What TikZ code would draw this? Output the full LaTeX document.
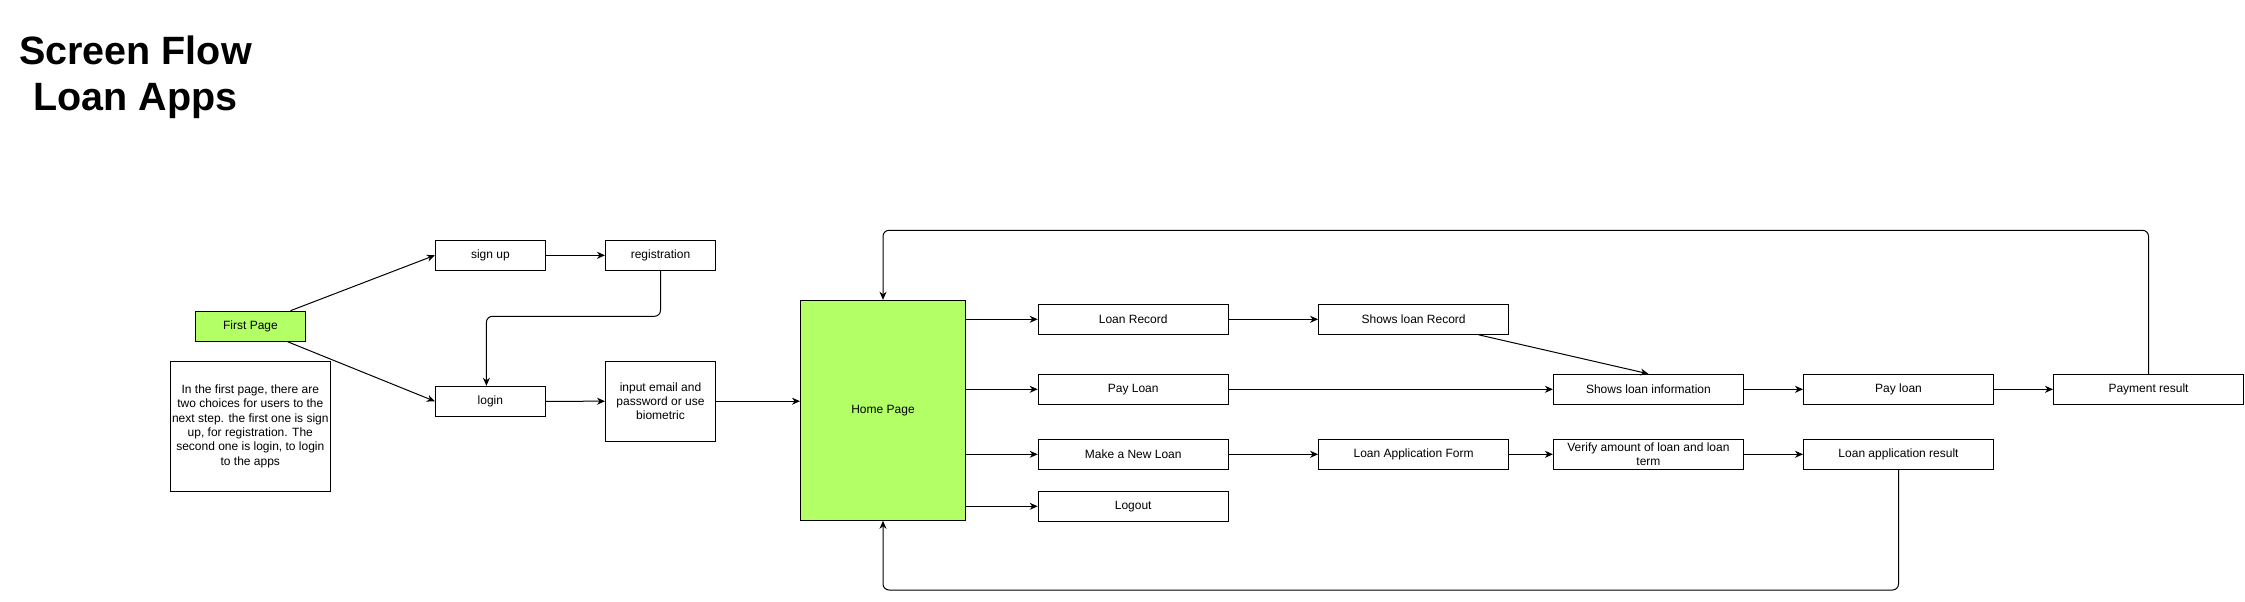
\documentclass[tikz,border=0pt]{standalone}
\usepackage{fontspec}
\setmainfont{Liberation Sans}
\usetikzlibrary{arrows.meta,positioning}
\definecolor{pagegreen}{RGB}{179,255,102}

\begin{document}
\begin{tikzpicture}[x=1pt,y=-1pt,line width=1pt,
    >={Stealth[length=8pt,width=7pt,inset=2.5pt]},
    screen/.style={draw,minimum width=190pt,minimum height=30pt,inner sep=1pt,
        align=center,font=\fontsize{12}{14.4}\selectfont},
    smallscreen/.style={screen,minimum width=110pt},
    greenscreen/.style={screen,fill=pagegreen}]

    \useasboundingbox (0,0) rectangle (2245,602);

    % title
    \node[align=center,font=\fontsize{39.5}{46}\selectfont\bfseries] (title) at (135.5,77.5) {Screen Flow\\Loan Apps};

    % first page, sign up and login
    \node[greenscreen,minimum width=110pt] (first) at (250.5,326.2) {First Page};
    \node[screen,minimum width=160pt,minimum height=130pt] (note) at (250.3,426.2)
        {In the first page, there are\\two choices for users to the\\next step. the first one is sign\\up, for registration. The\\second one is login, to login\\to the apps};
    \node[smallscreen] (signup) at (490.4,255.3) {sign up};
    \node[smallscreen] (regist) at (660.5,255.3) {registration};
    \node[smallscreen] (login) at (490.4,401.3) {login};
    \node[smallscreen,minimum height=80pt] (input) at (660.5,401.2) {input email and\\password or use\\biometric};

    % home page and menu
    \node[greenscreen,minimum width=165pt,minimum height=220pt] (home) at (883,410.3) {Home Page};
    \node[screen] (loanrec) at (1133.2,319.3) {Loan Record};
    \node[screen] (payloan) at (1133.2,389.3) {Pay Loan};
    \node[screen] (newloan) at (1133.2,454.3) {Make a New Loan};
    \node[screen] (logout) at (1133.2,506.3) {Logout};

    % loan screens
    \node[screen] (showrec) at (1413.6,319.3) {Shows loan Record};
    \node[screen] (showinfo) at (1648.4,389.3) {Shows loan information};
    \node[screen] (pay) at (1898.5,389.3) {Pay loan};
    \node[screen] (result) at (2148.5,389.3) {Payment result};
    \node[screen] (form) at (1413.6,454.3) {Loan Application Form};
    \node[screen] (verify) at (1648.4,454.3) {Verify amount of loan and loan\\term};
    \node[screen] (appres) at (1898.5,454.3) {Loan application result};

    % connectors
    \draw[->] ([xshift=40pt]first.north) -- (signup.west);
    \draw[->] ([xshift=37pt]first.south) -- (login.west);
    \draw[->] (signup) -- (regist);
    \draw[->,rounded corners=6pt] (regist.south) -- (regist.south |- 0,316.3) -| ([xshift=-4pt]login.north);
    \draw[->] (login) -- (input);
    \draw[->] (input.east) -- (input.east -| home.west);

    \draw[->] (loanrec.west -| home.east) -- (loanrec.west);
    \draw[->] (payloan.west -| home.east) -- (payloan.west);
    \draw[->] (newloan.west -| home.east) -- (newloan.west);
    \draw[->] (logout.west -| home.east) -- (logout.west);

    \draw[->] (loanrec) -- (showrec);
    \draw[->] ([xshift=65pt]showrec.south) -- (showinfo.north);
    \draw[->] (payloan) -- (showinfo);
    \draw[->] (showinfo) -- (pay);
    \draw[->] (pay) -- (result);
    \draw[->] (newloan) -- (form);
    \draw[->] (form) -- (verify);
    \draw[->] (verify) -- (appres);

    % back to home page
    \draw[->,rounded corners=6pt] (result.north) -- (result.north |- 0,230.3) -| (home.north);
    \draw[->,rounded corners=6pt] (appres.south) -- (appres.south |- 0,590) -| (home.south);
\end{tikzpicture}
\end{document}
